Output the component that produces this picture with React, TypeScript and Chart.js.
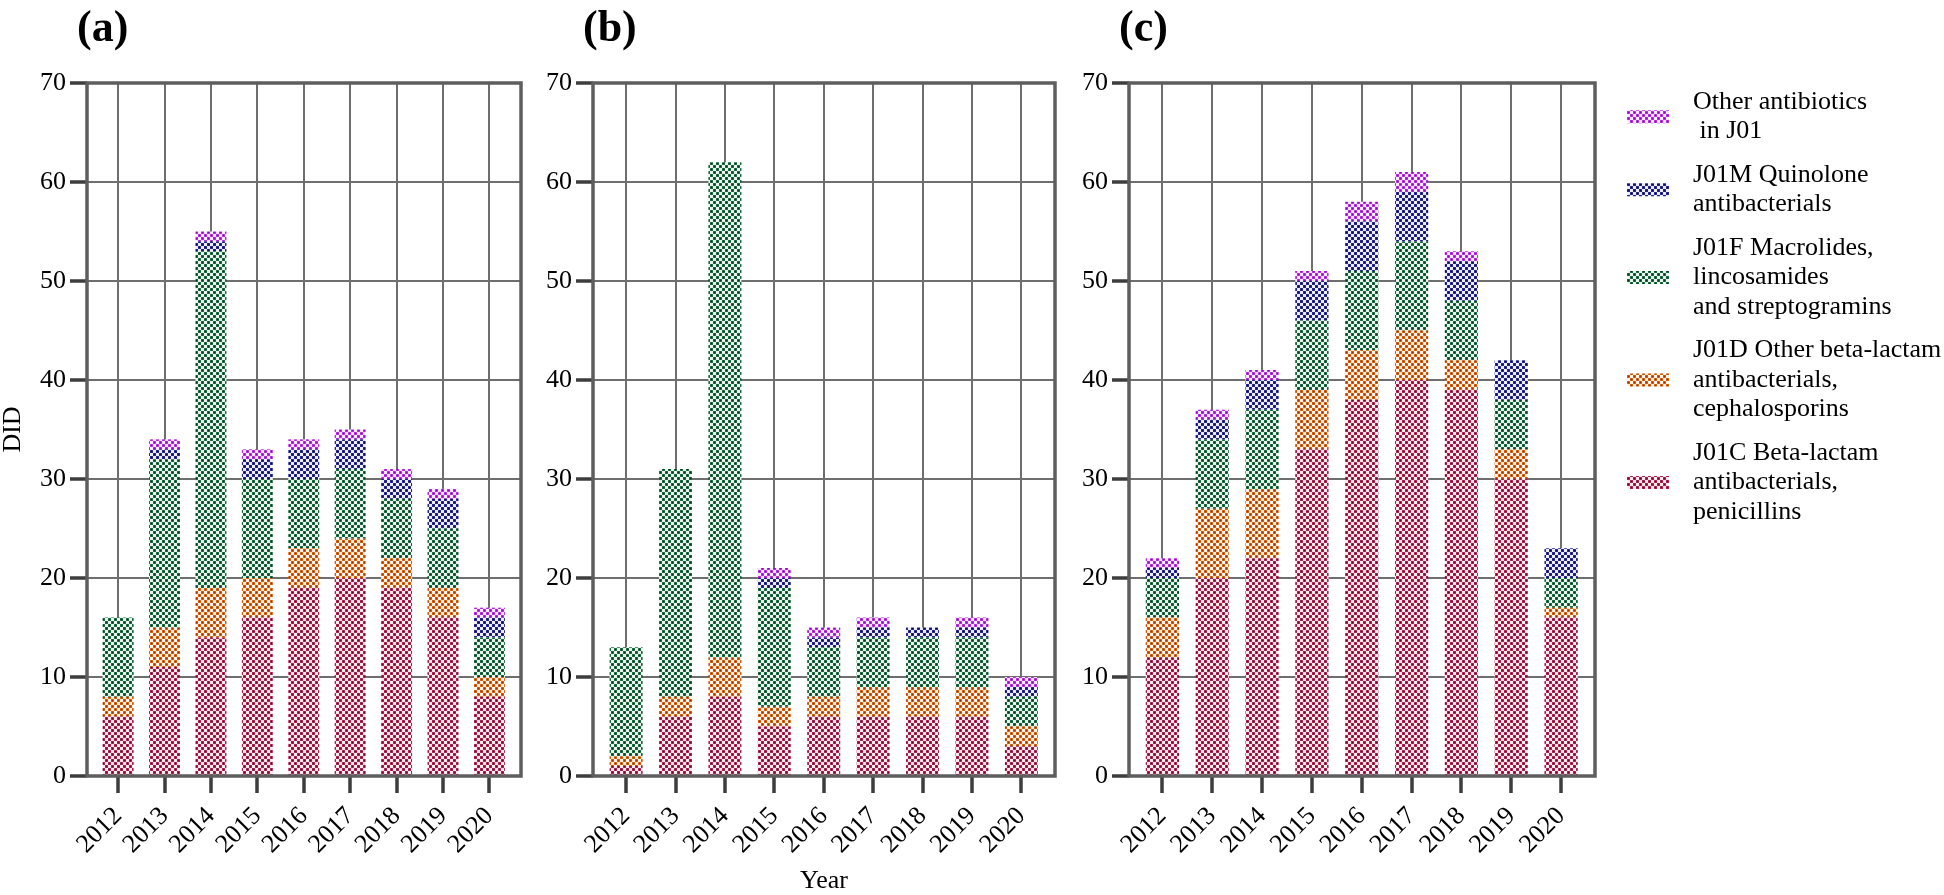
import React, { useEffect, useRef } from 'react';
import { Chart, registerables } from 'chart.js';

Chart.register(...registerables);

const FONT = "'Liberation Serif', 'Times New Roman', Times, serif";

const years = ['2012', '2013', '2014', '2015', '2016', '2017', '2018', '2019', '2020'];

const seriesLabels = [
  'J01C Beta-lactam\nantibacterials,\npenicillins',
  'J01D Other beta-lactam\nantibacterials,\ncephalosporins',
  'J01F Macrolides,\nlincosamides\nand streptogramins',
  'J01M Quinolone\nantibacterials',
  'Other antibiotics\n in J01',
];

// Panel (a)
const aJ01C = [6, 11, 14, 16, 19, 20, 19, 16, 8];
const aJ01D = [2, 4, 5, 4, 4, 4, 3, 3, 2];
const aJ01F = [8, 17, 34, 10, 7, 7, 6, 6, 4];
const aJ01M = [0, 1, 1, 2, 3, 3, 2, 3, 2];
const aOther = [0, 1, 1, 1, 1, 1, 1, 1, 1];

// Panel (b)
const bJ01C = [1, 6, 8, 5, 6, 6, 6, 6, 3];
const bJ01D = [1, 2, 4, 2, 2, 3, 3, 3, 2];
const bJ01F = [11, 23, 50, 12, 5, 5, 5, 5, 3];
const bJ01M = [0, 0, 0, 1, 1, 1, 1, 1, 1];
const bOther = [0, 0, 0, 1, 1, 1, 0, 1, 1];

// Panel (c)
const cJ01C = [12, 20, 22, 33, 38, 40, 39, 30, 16];
const cJ01D = [4, 7, 7, 6, 5, 5, 3, 3, 1];
const cJ01F = [4, 7, 8, 7, 8, 9, 6, 5, 3];
const cJ01M = [1, 2, 3, 4, 5, 5, 4, 4, 3];
const cOther = [1, 1, 1, 1, 2, 2, 1, 0, 0];

const yTicks = [0, 10, 20, 30, 40, 50, 60, 70];

const patternColors = [
  { bg: '#fbe8ef', mid: '#c23a6a', dark: '#7a0024' },
  { bg: '#fff3e6', mid: '#ee7a1c', dark: '#a82c00' },
  { bg: '#e9f4ee', mid: '#2e8458', dark: '#04391b' },
  { bg: '#ededf9', mid: '#3a3aa6', dark: '#08085e' },
  { bg: '#f8e9fd', mid: '#c64cf0', dark: '#9400cc' },
];

function makePattern(c: { bg: string; mid: string; dark: string }) {
  const t = document.createElement('canvas');
  t.width = 6;
  t.height = 6;
  const g = t.getContext('2d')!;
  g.fillStyle = c.bg;
  g.fillRect(0, 0, 6, 6);
  g.fillStyle = c.mid;
  g.fillRect(0, 0, 3, 3);
  g.fillRect(3, 3, 3, 3);
  g.fillStyle = c.dark;
  g.fillRect(0.5, 0.5, 2, 2);
  g.fillRect(3.5, 3.5, 2, 2);
  return g.createPattern(t, 'repeat') as CanvasPattern;
}

const framePlugin = {
  id: 'frame',
  afterDatasetsDraw(chart: any) {
    const { ctx, chartArea } = chart;
    const { left, top, right, bottom } = chartArea;
    ctx.save();
    ctx.strokeStyle = '#5e5e5e';
    ctx.lineWidth = 3.5;
    ctx.strokeRect(left, top, right - left, bottom - top);
    ctx.restore();
  },
};

const letterPlugin = {
  id: 'panelLetter',
  afterDraw(chart: any, _args: any, opts: any) {
    if (!opts || !opts.text) return;
    const ctx = chart.ctx;
    ctx.save();
    ctx.font = `bold 44px ${FONT}`;
    ctx.fillStyle = '#000';
    ctx.textBaseline = 'alphabetic';
    ctx.textAlign = 'left';
    ctx.fillText(opts.text, chart.chartArea.left - 10, 41);
    ctx.restore();
  },
};

const sideLegendPlugin = {
  id: 'sideLegend',
  afterDraw(chart: any, _args: any, opts: any) {
    if (!opts || !opts.display) return;
    const ctx = chart.ctx;
    ctx.save();
    ctx.font = `26px ${FONT}`;
    ctx.textBaseline = 'middle';
    ctx.textAlign = 'left';
    const items = chart.data.datasets
      .map((ds: any) => ({ lines: String(ds.label).split('\n'), fill: ds.backgroundColor }))
      .reverse();
    let y = opts.top;
    items.forEach((it: any) => {
      const n = it.lines.length;
      const center = y + ((n - 1) * opts.lineHeight) / 2;
      ctx.fillStyle = it.fill;
      ctx.fillRect(opts.boxX, center - opts.boxH / 2, opts.boxW, opts.boxH);
      ctx.fillStyle = '#000';
      it.lines.forEach((ln: string, i: number) => ctx.fillText(ln, opts.textX, y + i * opts.lineHeight));
      y += n * opts.lineHeight + opts.gap;
    });
    ctx.restore();
  },
};

type PanelProps = {
  left: number;
  width: number;
  letter: string;
  series: number[][];
  yAxisWidth: number;
  padRight: number;
  yTitle?: string;
  xTitle?: string;
  legend?: boolean;
};

function Panel(props: PanelProps) {
  const ref = useRef<HTMLCanvasElement>(null);
  useEffect(() => {
    const canvas = ref.current!;
    const patterns = patternColors.map(makePattern);
    const tickFont = { family: FONT, size: 26 };
    const chart = new Chart(canvas, {
      type: 'bar',
      data: {
        datasets: props.series.map((vals, si) => ({
          label: seriesLabels[si],
          data: vals.map((v, i) => ({ x: i, y: v })),
          backgroundColor: patterns[si],
          borderWidth: 0,
          barPercentage: 0.667,
          categoryPercentage: 1,
        })),
      },
      options: {
        responsive: false,
        maintainAspectRatio: false,
        animation: false,
        events: [],
        font: { family: FONT, size: 26 },
        layout: { padding: { left: 0, top: 83, right: props.padRight, bottom: 0 } },
        plugins: {
          legend: { display: false },
          tooltip: { enabled: false },
          title: { display: false },
          panelLetter: { text: props.letter },
          sideLegend: {
            display: !!props.legend,
            top: 102,
            lineHeight: 29.5,
            gap: 14,
            boxX: 567,
            boxW: 42,
            boxH: 13,
            textX: 633,
          },
        } as any,
        scales: {
          x: {
            type: 'linear',
            stacked: true,
            offset: false,
            min: -0.67,
            max: 8.68,
            afterBuildTicks: (s: any) => {
              s.ticks = years.map((_, i) => ({ value: i }));
            },
            afterFit: (s: any) => {
              s.height = 119;
            },
            grid: {
              offset: false,
              color: '#6e6e6e',
              lineWidth: 2,
              drawTicks: true,
              tickLength: 17,
              tickWidth: 3.5,
              tickColor: '#3d3d3d',
            },
            border: { display: false },
            ticks: {
              autoSkip: false,
              minRotation: 45,
              maxRotation: 45,
              padding: 8,
              font: tickFont,
              color: '#000',
              callback: (v: any) => years[Math.round(Number(v))] ?? '',
            },
            title: {
              display: !!props.xTitle,
              text: props.xTitle || '',
              color: '#000',
              font: { family: FONT, size: 26, lineHeight: 1 },
              padding: { top: 0, bottom: 1 },
            },
          },
          y: {
            type: 'linear',
            stacked: true,
            min: 0,
            max: 70,
            afterBuildTicks: (s: any) => {
              s.ticks = yTicks.map((v) => ({ value: v }));
            },
            afterFit: (s: any) => {
              s.width = props.yAxisWidth;
            },
            grid: {
              color: '#6e6e6e',
              lineWidth: 2,
              drawTicks: true,
              tickLength: 17,
              tickWidth: 3.5,
              tickColor: '#3d3d3d',
            },
            border: { display: false },
            ticks: {
              padding: 4,
              font: tickFont,
              color: '#000',
            },
            title: {
              display: !!props.yTitle,
              text: props.yTitle || '',
              color: '#000',
              font: { family: FONT, size: 26, lineHeight: 1 },
              padding: { top: 0, bottom: 0 },
            },
          },
        },
      },
      plugins: [framePlugin, letterPlugin, sideLegendPlugin],
    } as any);
    return () => chart.destroy();
  }, []);
  return (
    <canvas
      ref={ref}
      width={props.width}
      height={895}
      style={{ position: 'absolute', left: props.left, top: 0, width: props.width, height: 895 }}
    />
  );
}

export default function App() {
  return (
    <div
      style={{
        position: 'absolute',
        left: 0,
        top: 0,
        width: 1944,
        height: 895,
        overflow: 'hidden',
        background: '#fff',
      }}
    >
      <Panel
        left={0}
        width={560}
        letter="(a)"
        series={[aJ01C, aJ01D, aJ01F, aJ01M, aOther]}
        yAxisWidth={87}
        padRight={39}
        yTitle="DID"
      />
      <Panel
        left={530}
        width={560}
        letter="(b)"
        series={[bJ01C, bJ01D, bJ01F, bJ01M, bOther]}
        yAxisWidth={63}
        padRight={35}
        xTitle="Year"
      />
      <Panel
        left={1060}
        width={884}
        letter="(c)"
        series={[cJ01C, cJ01D, cJ01F, cJ01M, cOther]}
        yAxisWidth={69}
        padRight={349}
        legend
      />
    </div>
  );
}
